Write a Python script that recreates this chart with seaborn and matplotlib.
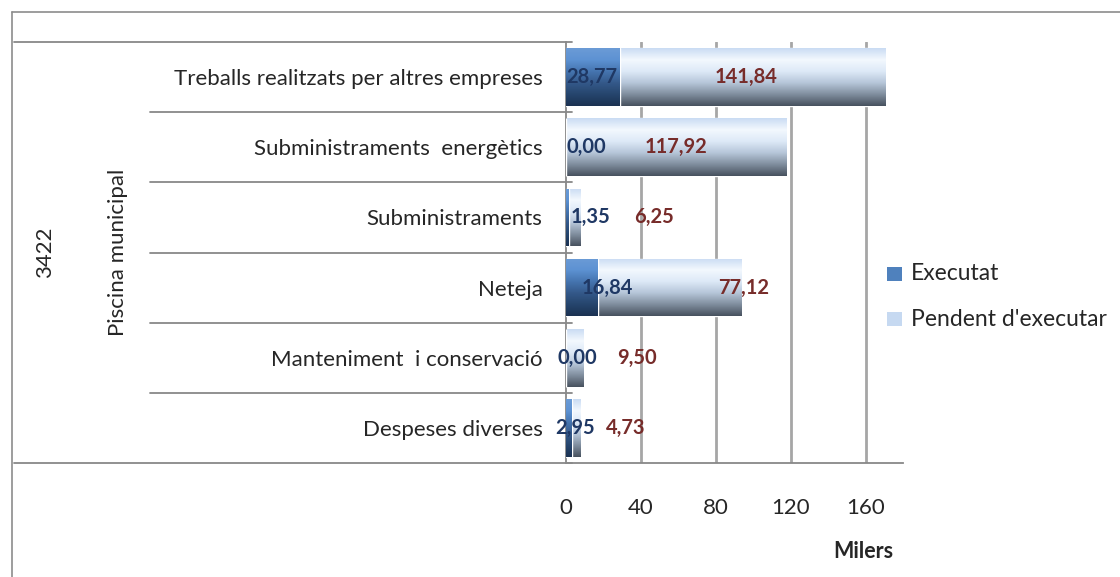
import numpy as np
import pandas as pd
import seaborn as sns
import matplotlib.pyplot as plt
from matplotlib.colors import to_rgb
from matplotlib.lines import Line2D
from matplotlib.patches import Rectangle
import matplotlib.transforms as mtrans

# Data ----------
categories = ["Treballs realitzats per altres empreses", "Subministraments  energètics",
              "Subministraments", "Neteja", "Manteniment  i conservació", "Despeses diverses"]
executat = [28.77, 0.00, 1.35, 16.84, 0.00, 2.95]
pendent = [141.84, 117.92, 6.25, 77.12, 9.50, 4.73]
group_inner = "Piscina municipal"
group_outer = "3422"
xticks = [0, 40, 80, 120, 160]

# label x positions (data units), as Excel left them
exec_lab_x = [14, 11, 13, 22, 6, 5]
pend_lab_x = [96, 59, 47, 95, 38, 32]

sns.set_style("white")
plt.rcParams['font.family'] = ['Lato', 'DejaVu Sans']

W, H = 1120, 577
def fx(px): return px / W
def fy(py): return 1 - py / H

fig = plt.figure(figsize=(W / 100, H / 100), dpi=100)
ax = fig.add_axes([fx(566), fy(463), fx(903) - fx(566), fy(42) - fy(463)])

df = pd.DataFrame({"cat": categories, "exec": executat, "pend": pendent})
df["total"] = df["exec"] + df["pend"]

sns.barplot(data=df, x="total", y="cat", color="#c6d9f1", width=0.82, ax=ax, zorder=2)
sns.barplot(data=df, x="exec", y="cat", color="#4f81bd", width=0.82, ax=ax, zorder=3)

# vertical gradients, top -> bottom
pend_cols = ["#cadcf3", "#f3f8fe", "#dde9f7", "#b6c6d9", "#808e9e", "#48525f"]
exec_cols = ["#6b9bd6", "#5d92d3", "#4675b0", "#34598a", "#26456d", "#1b3252"]

def grad(cols, n=100):
    stops = np.linspace(0, 1, len(cols))
    rgb = np.array([to_rgb(c) for c in cols])
    t = np.linspace(0, 1, n)
    arr = np.stack([np.interp(t, stops, rgb[:, i]) for i in range(3)], axis=1)
    return arr[:, None, :]

n = len(categories)
for i, p in enumerate(ax.patches):
    cols = pend_cols if i < n else exec_cols
    x0, y0 = p.get_x(), p.get_y()
    w, h = p.get_width(), p.get_height()
    if w <= 0:
        continue
    im = ax.imshow(grad(cols), extent=[x0, x0 + w, y0 + h, y0], origin="upper",
                   aspect="auto", zorder=p.get_zorder() + 0.5, interpolation="bilinear")
    im.set_clip_path(p)

ax.set_xlim(0, 180)
ax.set_ylim(n - 0.5, -0.5)
ax.set_xticks(xticks)
ax.set_xticklabels([str(t) for t in xticks], fontsize=16)
ax.set_yticks(range(n))
ax.set_yticklabels(categories, fontsize=16)
ax.tick_params(axis="y", length=0, pad=17)
ax.tick_params(axis="x", length=7, width=1.2, color="#888888", pad=18, direction="out")
ax.set_xlabel("")
ax.set_ylabel("")

for x in xticks[1:]:
    ax.axvline(x, color="#a6a6a6", lw=2, zorder=1)
for s in ["top", "right"]:
    ax.spines[s].set_visible(False)
for s in ["left", "bottom"]:
    ax.spines[s].set_color("#888888")
    ax.spines[s].set_linewidth(1.3)

# data labels
for i in range(n):
    ax.text(exec_lab_x[i], i, f"{executat[i]:.2f}".replace(".", ","), ha="center", va="center",
            fontsize=14.5, fontweight="bold", color="#1f3864", zorder=6)
    ax.text(pend_lab_x[i], i, f"{pendent[i]:.2f}".replace(".", ","), ha="center", va="center",
            fontsize=14.5, fontweight="bold", color="#772c2a", zorder=6)

# multi-level category axis lines
tr = mtrans.blended_transform_factory(ax.transAxes, ax.transData)
x_in = (150 - 566) / (903 - 566)
x_out = (14 - 566) / (903 - 566)
x_tick = 6 / (903 - 566)
for k in range(n + 1):
    y = k - 0.5
    x_start = x_out if k in (0, n) else x_in
    ax.add_line(Line2D([x_start, x_tick], [y, y], transform=tr, color="#888888",
                       lw=1.3, clip_on=False))

fig.text(fx(118), fy(252), group_inner, rotation=90, ha="center", va="center", fontsize=16)
fig.text(fx(45), fy(252), group_outer, rotation=90, ha="center", va="center", fontsize=16)
fig.text(fx(893), fy(551), "Milers", ha="right", va="center", fontsize=15.5, fontweight="bold")

# legend
leg_items = [("Executat", "#4f81bd", 274), ("Pendent d'executar", "#c6d9f1", 319)]
for lab, col, py in leg_items:
    fig.add_artist(Rectangle((fx(887), fy(py + 7)), 15 / W, 14 / H, facecolor=col,
                             edgecolor="none", transform=fig.transFigure))
    fig.text(fx(911), fy(py), lab, ha="left", va="center", fontsize=16.5)

# chart frame
fig.add_artist(Line2D([fx(12), fx(12)], [fy(12), 0], color="#8c8c8c", lw=1.2,
                      transform=fig.transFigure))
fig.add_artist(Line2D([fx(12), 1], [fy(12), fy(12)], color="#8c8c8c", lw=1.2,
                      transform=fig.transFigure))

fig.savefig("out.png", dpi=100)
